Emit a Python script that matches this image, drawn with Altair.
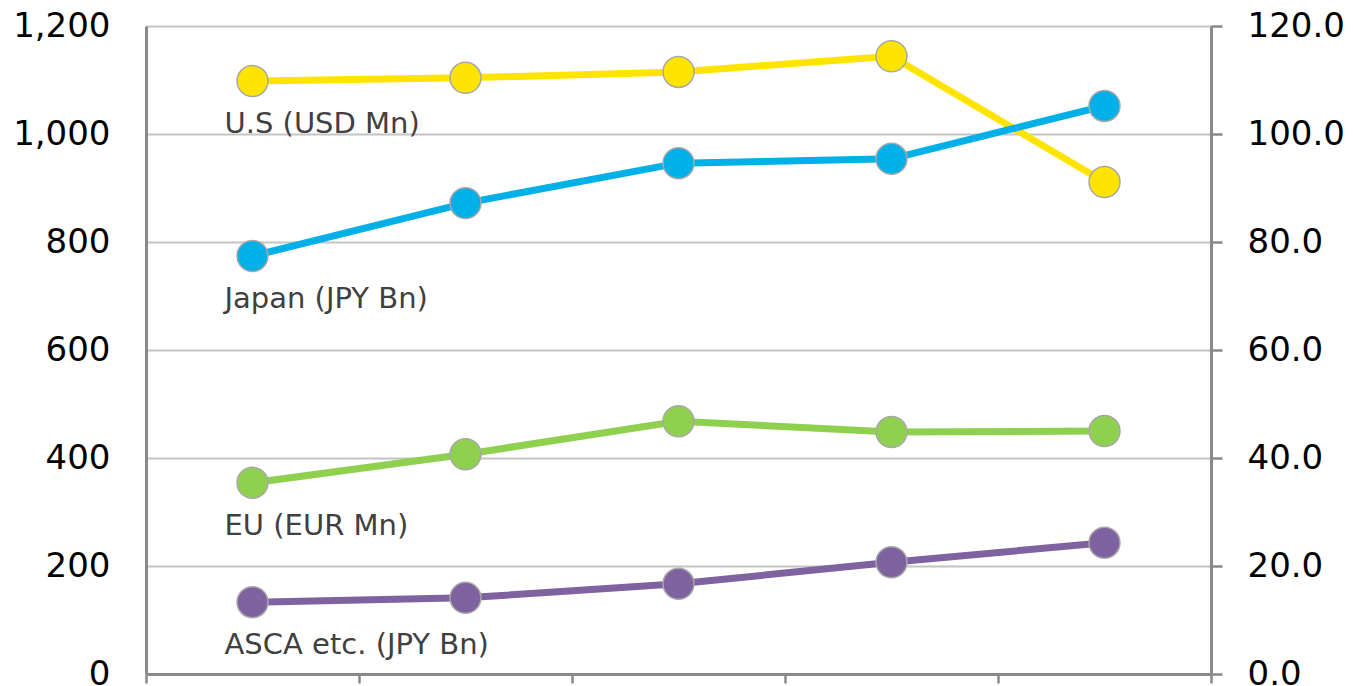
import altair as alt
import pandas as pd

# Five periods (unlabelled on the x axis)
periods = ["P1", "P2", "P3", "P4", "P5"]

us_usd_mn = [1098, 1104, 1115, 1144, 911]
japan_jpy_bn = [774, 872, 946, 954, 1052]
eu_eur_mn = [354, 407, 468, 448, 450]
asca_jpy_bn = [133, 141, 167, 207, 243]

series_names = ["U.S (USD Mn)", "Japan (JPY Bn)", "EU (EUR Mn)", "ASCA etc. (JPY Bn)"]
series_values = [us_usd_mn, japan_jpy_bn, eu_eur_mn, asca_jpy_bn]
series_colors = ["#FFE400", "#00B0E6", "#8FD14F", "#7F62A0"]

left_ticks = [0, 200, 400, 600, 800, 1000, 1200]
right_ticks = [0, 20, 40, 60, 80, 100, 120]

rows = []
for name, vals in zip(series_names, series_values):
    for p, v in zip(periods, vals):
        rows.append({"series": name, "period": p, "value": v})
df = pd.DataFrame(rows)
labels_df = df[df["period"] == periods[0]]

FONT = "DejaVu Sans"

x_enc = alt.X(
    "period:N",
    sort=periods,
    scale=alt.Scale(paddingInner=0, paddingOuter=0),
    axis=alt.Axis(
        title=None, labels=False, tickBand="extent", ticks=True, tickSize=9,
        tickColor="#8a8a8a", tickWidth=2.5, domainColor="#8a8a8a", domainWidth=3,
        grid=False,
    ),
)
y_scale = alt.Scale(domain=[0, 1200], nice=False)
color_scale = alt.Scale(domain=series_names, range=series_colors)

base = alt.Chart(df).encode(
    x=x_enc,
    y=alt.Y(
        "value:Q", scale=y_scale,
        axis=alt.Axis(
            title=None, values=left_ticks, format=",d", ticks=False,
            labelFontSize=34, labelFont=FONT, labelColor="#000000", labelPadding=36,
            domainColor="#8a8a8a", domainWidth=3,
            grid=True, gridColor="#c4c4c4", gridWidth=2,
        ),
    ),
    color=alt.Color("series:N", scale=color_scale, legend=None),
)

lines = base.mark_line(strokeWidth=7)
halo = base.mark_circle(size=960, opacity=1, color="#e4e4e4", stroke="#a8a8a8", strokeWidth=1.5)
dots = base.mark_circle(size=580, opacity=1)
shine = base.mark_circle(size=40, opacity=0.75, color="#ffffff", xOffset=-4, yOffset=-5)

labels = alt.Chart(labels_df).mark_text(
    align="left", baseline="middle", dx=-28, dy=43,
    font=FONT, fontSize=29, color="#404040",
).encode(
    x=alt.X("period:N", sort=periods),
    y=alt.Y("value:Q", scale=y_scale),
    text="series:N",
)

left_layer = alt.layer(lines, halo, dots, shine, labels)

right_axis = alt.Chart(pd.DataFrame({"r": right_ticks})).mark_tick(opacity=0).encode(
    y=alt.Y(
        "r:Q",
        scale=alt.Scale(domain=[0, 120], nice=False),
        axis=alt.Axis(
            orient="right", title=None, values=right_ticks, format=".1f",
            tickSize=11, tickColor="#8a8a8a", tickWidth=2.5,
            labelFontSize=34, labelFont=FONT, labelColor="#000000", labelPadding=25,
            domainColor="#8a8a8a", domainWidth=3, grid=False,
        ),
    ),
)

chart = alt.layer(left_layer, right_axis).resolve_scale(y="independent").properties(
    width=1065,
    height=648,
    autosize=alt.AutoSizeParams(type="none"),
    padding={"left": 146, "top": 26, "right": 142, "bottom": 12},
).configure_view(stroke=None).configure(background="#ffffff")

chart.save("out.html", embed_options={"renderer": "svg", "actions": False})
